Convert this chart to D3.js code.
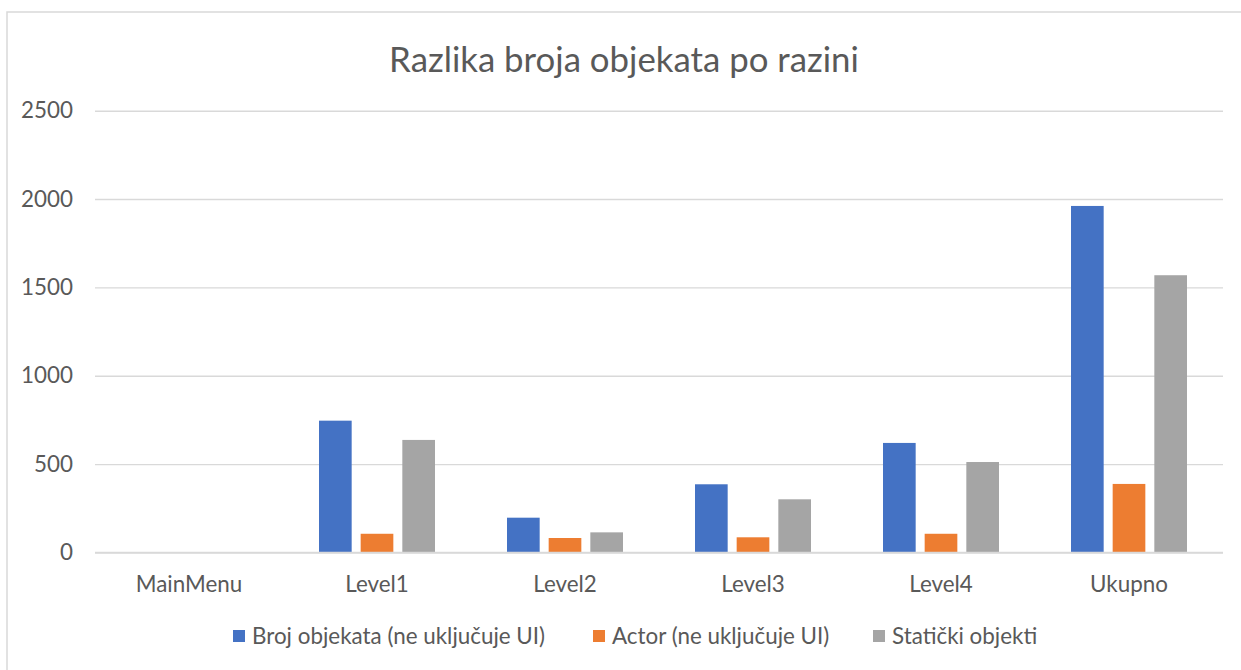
<!DOCTYPE html>
<html>
<head>
<meta charset="utf-8">
<script src="https://cdn.jsdelivr.net/npm/d3@7"></script>
<style>
  html, body { margin: 0; padding: 0; background: #fff; }
  svg { display: block; }
  text { font-family: Lato, "Open Sans", sans-serif; fill: #595959; }
</style>
</head>
<body>
<svg id="chart" width="1241" height="670"></svg>
<script>
// Object counts per level
const categories = ["MainMenu", "Level1", "Level2", "Level3", "Level4", "Ukupno"];
const seriesNames = ["Broj objekata (ne uključuje UI)", "Actor (ne uključuje UI)", "Statički objekti"];
const brojObjekata = [0, 746, 197, 386, 620, 1961];
const actor = [0, 106, 82, 86, 106, 388];
const staticki = [0, 637, 114, 301, 512, 1569];
const yTicks = [0, 500, 1000, 1500, 2000, 2500];
const colors = ["#4472C4", "#ED7D31", "#A5A5A5"];
const title = "Razlika broja objekata po razini";

const seriesValues = [brojObjekata, actor, staticki];
const data = categories.map((c, i) => ({
  category: c,
  values: seriesNames.map((s, k) => ({ series: s, idx: k, value: seriesValues[k][i] }))
}));

const labelSize = 22.4;
const svg = d3.select("#chart");

// chart frame
svg.append("rect")
  .attr("x", 7).attr("y", 12)
  .attr("width", 1260).attr("height", 700)
  .attr("fill", "#fff")
  .attr("stroke", "#D9D9D9")
  .attr("stroke-width", 1.5);

const plot = { left: 95, right: 1223, top: 110.7, bottom: 552.5 };

const x0 = d3.scaleBand().domain(categories).range([plot.left, plot.right]).padding(0);
const x1 = d3.scaleBand().domain(seriesNames).range([0, x0.bandwidth()])
  .paddingInner(0.216).paddingOuter(0.864);
const y = d3.scaleLinear().domain([0, 2500]).range([plot.bottom, plot.top]);

// gridlines and y tick labels
const yAxis = d3.axisLeft(y).tickValues(yTicks).tickFormat(d3.format("d"))
  .tickSize(-(plot.right - plot.left)).tickPadding(22);
const gy = svg.append("g").attr("transform", `translate(${plot.left},0)`).call(yAxis);
gy.select(".domain").remove();
gy.selectAll(".tick line").attr("stroke", "#D9D9D9").attr("stroke-width", 1.4);
gy.selectAll(".tick text")
  .attr("font-size", labelSize)
  .attr("fill", "#595959")
  .style("font-family", "Lato, 'Open Sans', sans-serif");

// bars
const groups = svg.append("g").selectAll("g")
  .data(data).join("g")
  .attr("transform", d => `translate(${x0(d.category)},0)`);

groups.selectAll("rect")
  .data(d => d.values).join("rect")
  .attr("x", d => x1(d.series))
  .attr("width", x1.bandwidth())
  .attr("y", d => y(d.value))
  .attr("height", d => y(0) - y(d.value))
  .attr("fill", d => colors[d.idx]);

// baseline
svg.append("line")
  .attr("x1", plot.left).attr("x2", plot.right)
  .attr("y1", y(0)).attr("y2", y(0))
  .attr("stroke", "#D9D9D9").attr("stroke-width", 1.6);

// category labels
const xAxis = d3.axisBottom(x0).tickSize(0).tickPadding(24);
const gx = svg.append("g").attr("transform", `translate(0,${plot.bottom})`).call(xAxis);
gx.select(".domain").remove();
gx.selectAll(".tick text")
  .attr("font-size", labelSize)
  .attr("fill", "#595959")
  .style("font-family", "Lato, 'Open Sans', sans-serif");

// title
svg.append("text")
  .attr("x", 624).attr("y", 72)
  .attr("text-anchor", "middle")
  .attr("font-size", 34.8)
  .text(title);

// legend
const legendX = [233, 593, 873];
const legend = svg.append("g").selectAll("g")
  .data(seriesNames).join("g")
  .attr("transform", (d, i) => `translate(${legendX[i]},630)`);
legend.append("rect")
  .attr("width", 12).attr("height", 12)
  .attr("fill", (d, i) => colors[i]);
legend.append("text")
  .attr("x", 19).attr("y", 6)
  .attr("dy", "0.35em")
  .attr("font-size", labelSize)
  .text(d => d);
</script>
</body>
</html>
